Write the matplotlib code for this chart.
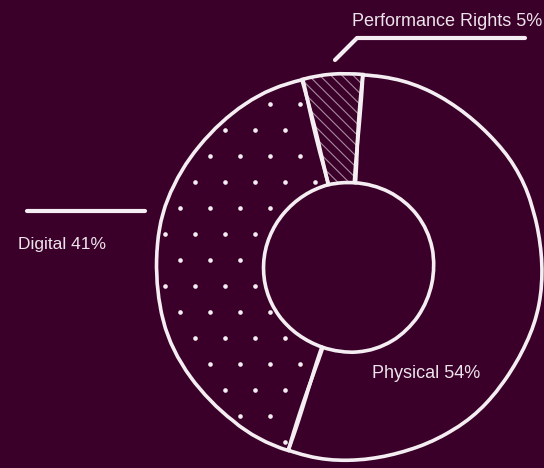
import matplotlib.pyplot as plt
import numpy as np

labels = ["Physical", "Digital", "Performance Rights"]
shares = [54, 41, 5]

bg = "#3a0029"
fg = "#f4eef2"
plt.rcParams["font.family"] = ["Liberation Sans", "DejaVu Sans"]
plt.rcParams["hatch.linewidth"] = 0.8

fig = plt.figure(figsize=(5.44, 4.68), dpi=100, facecolor=bg)
ax = fig.add_axes([0, 0, 1, 1])
ax.set_facecolor(bg)

cx, cy, r_out, r_in = 349, 201, 193, 85

wedges, _ = ax.pie(shares, startangle=86, counterclock=False, center=(cx, cy),
                   radius=r_out, wedgeprops=dict(width=r_out - r_in, facecolor=bg,
                                                 edgecolor="#a88a9d", linewidth=0))
wedges[2].set_hatch("\\\\\\")

# sparse dot texture for the digital slice, clipped to the wedge
gx, gy = np.meshgrid(np.arange(0, 544, 30), np.arange(0, 468, 26))
gx = gx + (np.arange(gx.shape[0])[:, None] % 2) * 15
dots = ax.scatter(gx.ravel(), gy.ravel(), s=11, color=fg, linewidths=0, zorder=2)
dots.set_clip_path(wedges[1])

# hand-drawn outline layer
outl, _ = ax.pie(shares, startangle=86, counterclock=False, center=(cx, cy),
                 radius=r_out, wedgeprops=dict(width=r_out - r_in, fill=False,
                                               edgecolor=fg, linewidth=2.6))
for w in outl:
    w.set_sketch_params(scale=0.6, length=200, randomness=4)
    w.set_zorder(3)

ax.set_xlim(0, 544)
ax.set_ylim(0, 468)
ax.set_aspect("equal")
ax.axis("off")

H = 468
ax.plot([335, 357, 525], [H - 60, H - 38, H - 38], color=fg, lw=3, solid_capstyle="round")
ax.plot([27, 145], [H - 211, H - 211], color=fg, lw=3, solid_capstyle="round")

tc = "#ece4ea"
ax.text(352, H - 22, f"{labels[2]} {shares[2]}%", color=tc, fontsize=13, va="center", ha="left")
ax.text(18, H - 245, f"{labels[1]} {shares[1]}%", color=tc, fontsize=12.5, va="center", ha="left")
ax.text(372, H - 374, f"{labels[0]} {shares[0]}%", color=tc, fontsize=13, va="center", ha="left")

fig.savefig("out.png", dpi=100, facecolor=bg)
